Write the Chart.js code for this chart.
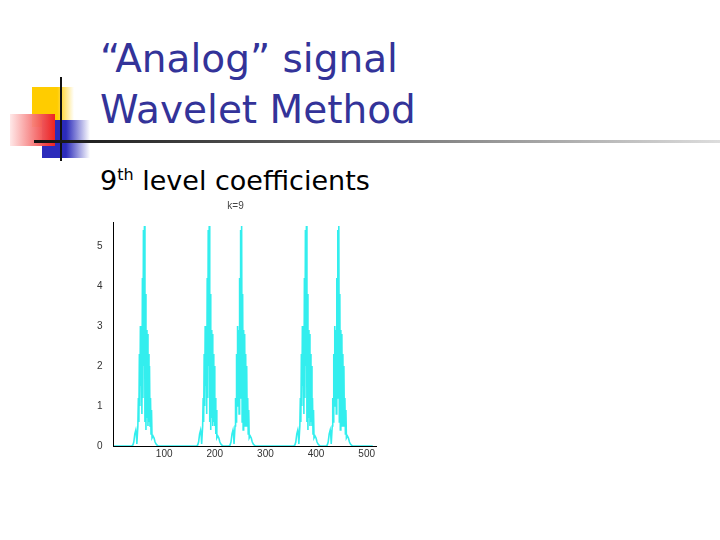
<!DOCTYPE html>
<html>
<head>
<meta charset="utf-8">
<script src="https://cdn.jsdelivr.net/npm/chart.js@4"></script>
<style>
  body { margin: 0; width: 720px; height: 540px; background: #fff; position: relative; overflow: hidden; font-family: "DejaVu Sans", sans-serif; }
  .t { position: absolute; left: 100px; color: #333399; font-size: 39px; line-height: 46px; }
  #deco div { position: absolute; }
  #sub { position: absolute; left: 100px; top: 165px; font-size: 27px; color: #000; }
  #box { position: absolute; left: 94px; top: 198px; width: 283px; height: 264px; }
</style>
</head>
<body>
<div id="deco">
  <div style="left:32px;top:87px;width:42px;height:40px;background:linear-gradient(90deg,#ffcc00 60%,#fff);"></div>
  <div style="left:42px;top:120px;width:48px;height:38px;background:linear-gradient(90deg,#2b2bbb 50%,#fff);"></div>
  <div style="left:10px;top:114px;width:45px;height:32px;background:linear-gradient(90deg,rgba(255,230,230,0.9),#ee2222);"></div>
  <div style="left:60px;top:77px;width:2px;height:84px;background:#111;"></div>
  <div style="left:34px;top:140px;width:686px;height:3px;background:linear-gradient(90deg,#111,#888 60%,#ddd);"></div>
</div>
<div class="t" style="top:36px;">“Analog” signal</div>
<div class="t" style="top:87px;">Wavelet Method</div>
<div id="sub">9<sup style="font-size:16px">th</sup> level coefficients</div>
<div id="box"><canvas id="c"></canvas></div>
<script>
// cluster centres
const centres = [64, 192, 256, 384, 448];
// shape of one cluster, offsets from its centre
const shapeOffsets = [-28,-26,-24,-22,-20,-19,-18,-16,-15,-14,-13,-12,-11,-10,-9,-8,-7,-6,-5,-4,-3,-2,-1,0,1,2,3,4,5,6,7,8,9,10,11,12,14,16,18,20,22,24,26];
const shapeValues  = [0,0.02,0.1,0.3,0.4,0.3,0.05,0.5,1.2,0.6,2.3,1.0,3.0,1.5,2.9,0.8,4.2,1.2,5.4,2.0,5.5,0.6,3.8,0.4,2.9,0.7,2.8,0.5,2.3,0.6,2.0,0.5,1.2,0.3,0.9,0.2,0.25,0.2,0.1,0.05,0.02,0,0];
const xStart = 1, xEnd = 512;
const xTicks = [100, 200, 300, 400, 500];
const yTicks = [0,1,2,3,4,5];

const pts = [{x: xStart, y: 0}];
centres.forEach(c => {
  shapeOffsets.forEach((o, i) => pts.push({x: c + o, y: shapeValues[i]}));
});
pts.push({x: xEnd, y: 0});

new Chart(document.getElementById('c'), {
  type: 'line',
  data: { datasets: [{ data: pts, borderColor: '#33eeee', borderWidth: 1.6, pointRadius: 0, tension: 0 }] },
  options: {
    animation: false, responsive: true, maintainAspectRatio: false,
    plugins: {
      legend: { display: false },
      title: { display: true, text: 'k=9', color: '#444', font: { size: 10, weight: 'normal' }, padding: { top: 2, bottom: 10 } }
    },
    scales: {
      x: {
        type: 'linear', min: 0, max: 520,
        afterBuildTicks: ax => { ax.ticks = xTicks.map(v => ({value: v})); },
        grid: { display: false, drawTicks: false },
        border: { color: '#000' },
        ticks: { autoSkip: false, padding: 2, color: '#333', font: { size: 10 }, maxRotation: 0 }
      },
      y: {
        min: 0, max: 5.6,
        afterBuildTicks: ax => { ax.ticks = yTicks.map(v => ({value: v})); },
        grid: { display: false },
        border: { color: '#000' },
        ticks: { color: '#333', font: { size: 10 } }
      }
    }
  }
});
</script>
</body>
</html>
